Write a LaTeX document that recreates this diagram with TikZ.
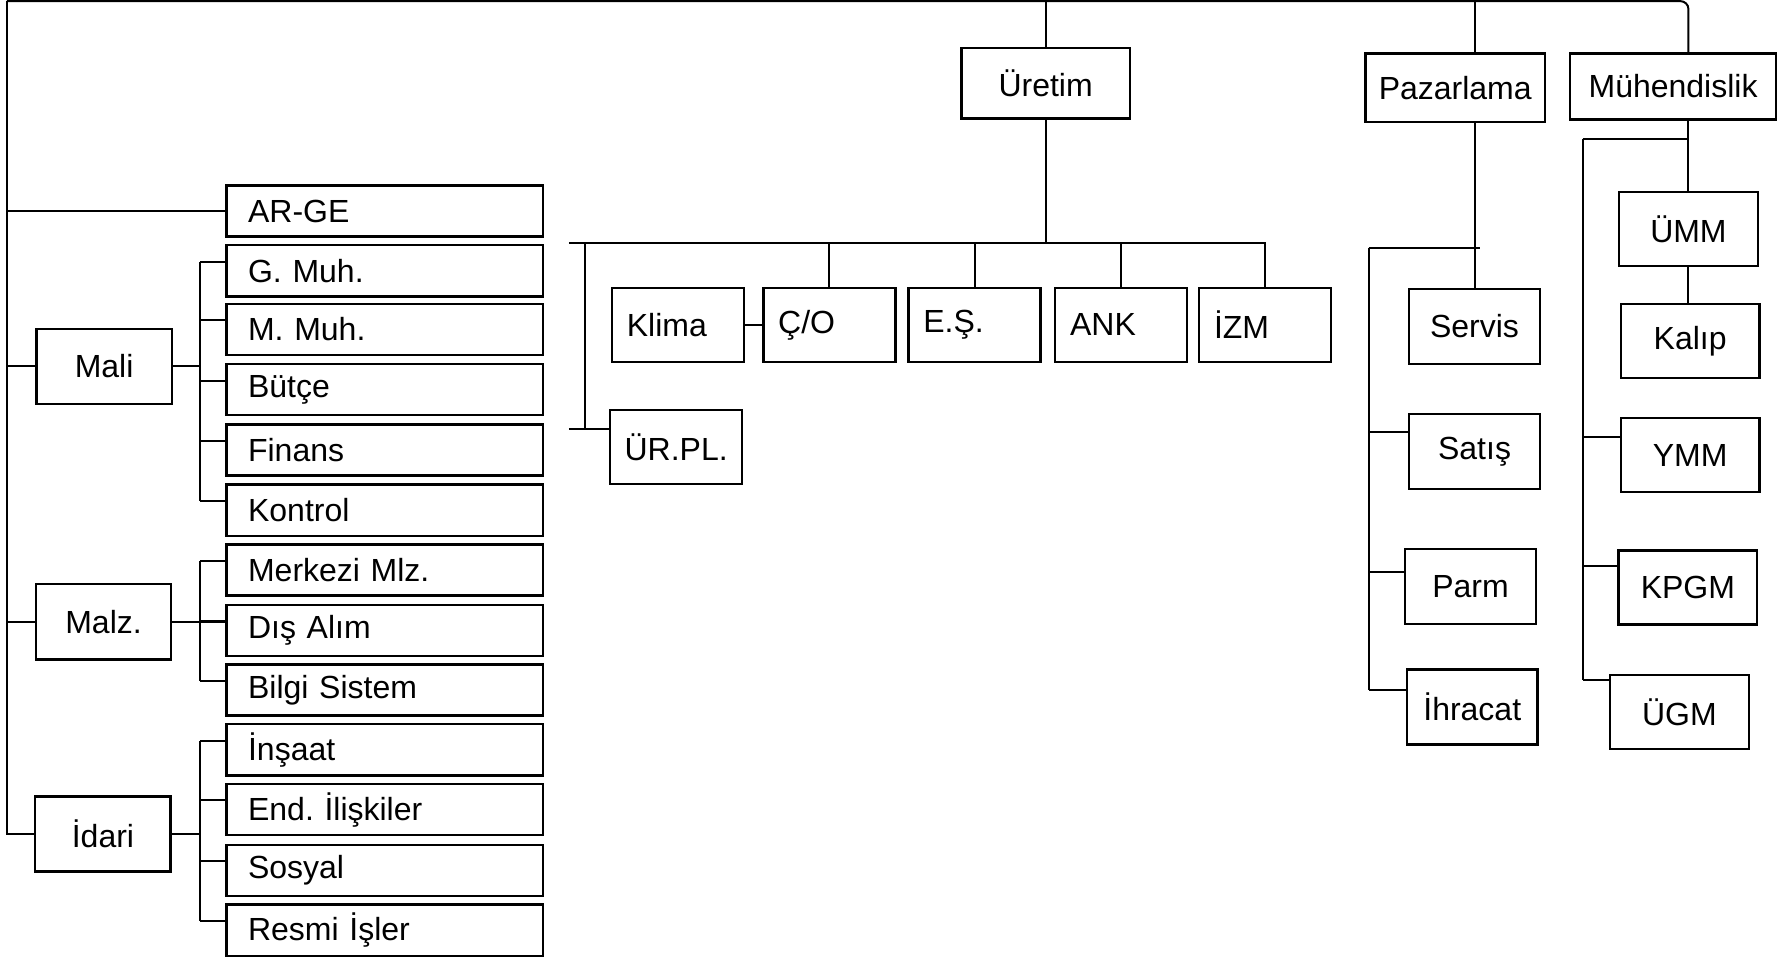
\documentclass[tikz,border=0pt]{standalone}
\usepackage{fontspec}
\setmainfont{Liberation Sans}
\usetikzlibrary{calc}
\frenchspacing

\begin{document}
\begin{tikzpicture}[x=0.2mm, y=-0.2mm, line width=1pt,
  kutu/.style={draw, line width=1.2pt, font=\fontsize{16}{19}\selectfont, inner sep=0pt},
  altkutu/.style={kutu, anchor=west, minimum height=9mm, text width=48mm, inner xsep=3.8mm, align=left},
  sirakutu/.style={kutu, minimum height=13mm, text width=18mm, inner xsep=2.6mm, align=left},
  birimkutu/.style={kutu, minimum width=23.8mm, minimum height=13.2mm},
  sagkutu/.style={kutu, minimum width=23mm, minimum height=13.2mm},
  mkutu/.style={kutu, minimum width=24.4mm, minimum height=13mm}]

\useasboundingbox (0,0) rectangle (1568,844);

% =========== Top level ===========
\node[kutu, minimum width=29.6mm, minimum height=12.4mm] (uretim) at (919,73) {Üretim};
\node[kutu, minimum width=31.6mm, minimum height=12mm] (paz) at (1279,77) {Pazarlama};
\node[kutu, minimum width=36.2mm, minimum height=11.6mm] (muh) at (1470.5,76) {Mühendislik};

% =========== Left column ===========
\node[birimkutu] (mali) at (91.5,322) {Mali};
\node[birimkutu] (malz) at (91,546.5) {Malz.};
\node[birimkutu] (idari) at (90.5,733) {İdari};

\node[altkutu] (arge) at (198,185.5) {AR-GE};
\node[altkutu] (gmuh) at (198,238) {G. Muh.};
\node[altkutu] (mmuh) at (198,289.5) {M. Muh.};
\node[altkutu] (butce) at (198,342.5) {Bütçe};
\node[altkutu] (finans) at (198,395.5) {Finans};
\node[altkutu] (kontrol) at (198,448.5) {Kontrol};
\node[altkutu] (merkezi) at (198,501) {Merkezi Mlz.};
\node[altkutu] (disalim) at (198,554) {Dış Alım};
\node[altkutu] (bilgi) at (198,606.5) {Bilgi Sistem};
\node[altkutu] (insaat) at (198,659) {İnşaat};
\node[altkutu] (endil) at (198,711.5) {End. İlişkiler};
\node[altkutu] (sosyal) at (198,765) {Sosyal};
\node[altkutu] (resmi) at (198,817.5) {Resmi İşler};

% Trunk
\coordinate (tl) at (6,1);
\draw (idari.west) -| (tl);
\draw (arge.west) -- (arge.west -| tl);
\draw (mali.west) -- (mali.west -| tl);
\draw (malz.west) -- (malz.west -| tl);

% Brackets
\coordinate (bx) at (176,0);
\foreach \k in {gmuh,mmuh,butce,finans,kontrol,merkezi,disalim,bilgi,insaat,endil,sosyal,resmi}
  \draw ($(\k.west)+(0,-8)$) -- ($(\k.west -| bx)+(0,-8)$);
\draw ($(gmuh.west -| bx)+(0,-8)$) -- ($(kontrol.west -| bx)+(0,-8)$);
\draw ($(merkezi.west -| bx)+(0,-8)$) -- ($(bilgi.west -| bx)+(0,-8)$);
\draw ($(insaat.west -| bx)+(0,-8)$) -- ($(resmi.west -| bx)+(0,-8)$);
\draw (mali.east) -- (mali.east -| bx);
\draw (malz.east) -- (malz.east -| disalim.west);
\draw (idari.east) -- (idari.east -| bx);

% =========== Üretim ===========
\node[sirakutu] (klima) at (596,285.5) {Klima};
\node[sirakutu] (co) at (729,285.5) {Ç/O};
\node[sirakutu] (es) at (856.5,285.5) {E.Ş.};
\node[sirakutu] (ank) at (985.5,285.5) {ANK};
\node[sirakutu] (izm) at (1112,285.5) {İZM};
\node[sirakutu] (urpl) at (594,393) {ÜR.PL.};

\draw (uretim.north) -- (uretim.north |- tl);
\coordinate (ub) at (500,214);
\draw (uretim.south) -- (uretim.south |- ub);
\draw (ub) -- (ub -| izm.north) -- (izm.north);
\foreach \k in {co,es,ank}
  \draw (\k.north) -- (\k.north |- ub);
\draw (klima.east) -- (co.west);
\coordinate (ux) at (514,214);
\coordinate (us) at (500,377);
\draw (ux) -- (ux |- us);
\draw (us) -- (us -| urpl.west);

% =========== Pazarlama ===========
\node[sagkutu] (servis) at (1296,287) {Servis};
\node[sagkutu] (satis) at (1296,397) {Satış};
\node[sagkutu] (parm) at (1292.5,515.5) {Parm};
\node[sagkutu] (ihracat) at (1294,621.5) {İhracat};

\draw (servis.north |- paz.north) -- (servis.north |- tl);
\draw (servis.north) -- (servis.north |- paz.south);
\coordinate (pk) at (1203,218);
\draw (pk) -- ($(pk -| servis.north)+(5,0)$);
\draw (pk) -- ($(ihracat.west -| pk)+(0,-15)$);
\foreach \k/\d in {satis/-17,parm/-13,ihracat/-15}
  \draw ($(\k.west)+(0,\d)$) -- ($(\k.west -| pk)+(0,\d)$);

% =========== Mühendislik ===========
\node[mkutu] (umm) at (1484,201.5) {ÜMM};
\node[mkutu] (kalip) at (1485.5,299.5) {Kalıp};
\node[mkutu] (ymm) at (1485.5,400) {YMM};
\node[mkutu] (kpgm) at (1483.5,516.5) {KPGM};
\node[mkutu] (ugm) at (1476,626) {ÜGM};

% Top line
\draw[rounded corners=4pt] (tl) -| (umm.north |- muh.north);

\draw (umm.north) -- (umm.north |- muh.south);
\draw (umm.south) -- (umm.south |- kalip.north);
\coordinate (mk) at (1391,122);
\draw (mk) -- (mk -| umm.north);
\draw (mk) -- ($(ugm.west -| mk)+(0,-28)$);
\foreach \k/\d in {ymm/-16,kpgm/-19,ugm/-28}
  \draw ($(\k.west)+(0,\d)$) -- ($(\k.west -| mk)+(0,\d)$);

\end{tikzpicture}
\end{document}
